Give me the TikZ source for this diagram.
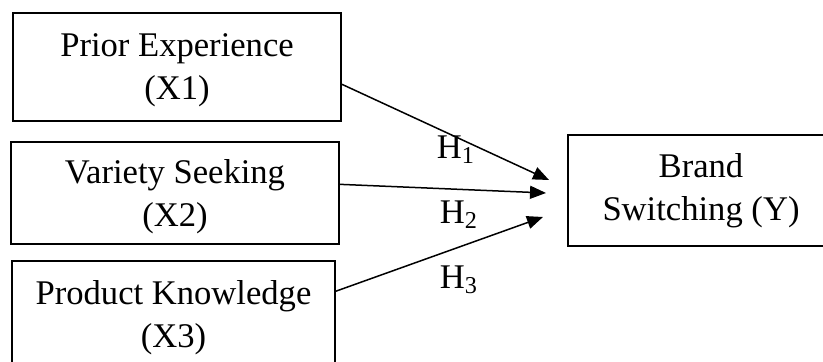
\documentclass[tikz,border=0pt]{standalone}
\usepackage{fontspec}
\setmainfont{Liberation Serif}
\usetikzlibrary{arrows.meta}

\tikzset{every picture/.style={line width=0.75pt}}
\tikzset{
  varbox/.style={draw,line width=1pt,align=center,inner sep=0pt,
    font=\fontsize{17.3}{21.5}\selectfont},
  lowtext/.style={text depth=0pt},
  hyp/.style={-{Triangle[length=8pt,width=6.5pt]},line width=0.75pt},
  hlabel/.style={font=\fontsize{17.3}{21.5}\selectfont}
}

\begin{document}
\begin{tikzpicture}[x=0.5pt,y=0.5pt,yscale=-1,xscale=1]
\useasboundingbox (0,0) rectangle (823,362);

% Shape: Rectangle [Prior Experience]
\node [varbox,lowtext,minimum width=164pt,minimum height=54pt] (prior) at (177,67) {Prior Experience\\(X1)};
% Shape: Rectangle [Variety Seeking]
\node [varbox,lowtext,minimum width=164pt,minimum height=51pt] (variety) at (175,193) {Variety Seeking\\(X2)};
% Shape: Rectangle [Product Knowledge]
\node [varbox,lowtext,minimum width=161.5pt,minimum height=52.5pt] (knowledge) at (173.5,314) {Product Knowledge\\(X3)};
% Shape: Rectangle [Brand Switching]
\node [varbox,minimum width=133pt,minimum height=55.5pt] (switching) at (701,190.5) {Brand\\Switching (Y)};

% arrow ends
\coordinate (h1end) at (549,180);
\coordinate (h2end) at (546,193);
\coordinate (h3end) at (543,217);

%Straight Lines
\draw [hyp] (prior.-6) -- (h1end) ;
%Straight Lines
\draw [hyp] (variety.3) -- (h2end) ;
%Straight Lines
\draw [hyp] (knowledge.8) -- (h3end) ;

% Text Node
\node [hlabel] (h1) at (456,150) {H\textsubscript{1}};
% Text Node
\node [hlabel] (h2) at (459,215) {H\textsubscript{2}};
% Text Node
\node [hlabel] (h3) at (459,280) {H\textsubscript{3}};

\end{tikzpicture}
\end{document}
